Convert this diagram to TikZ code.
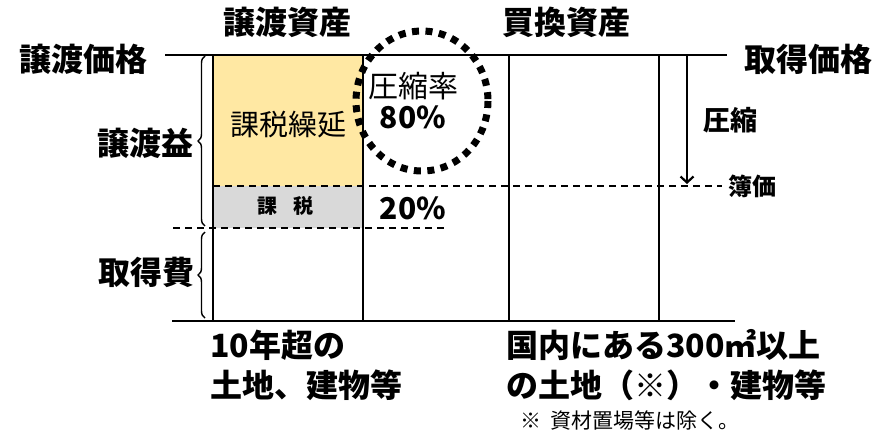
\documentclass[tikz,border=0pt]{standalone}
\usepackage{fontspec}
\newfontfamily\jp{Noto Sans CJK JP}
\usetikzlibrary{arrows.meta,decorations.pathreplacing}
\definecolor{yfill}{RGB}{255,232,163}
\definecolor{gfill}{RGB}{217,217,217}
\begin{document}
\begin{tikzpicture}[x=1pt,y=-1pt,
  big/.style={font=\jp\bfseries\fontsize{32}{36}\selectfont, inner sep=0pt},
  mid/.style={font=\jp\bfseries\fontsize{30}{34}\selectfont, inner sep=0pt},
  reg/.style={font=\jp\fontsize{29}{32}\selectfont, inner sep=0pt},
  small/.style={font=\jp\bfseries\fontsize{20}{24}\selectfont, inner sep=0pt},
  note/.style={font=\jp\fontsize{21}{24}\selectfont, inner sep=0pt},
  solidline/.style={line width=2.2pt},
  dashline/.style={line width=1.6pt, dash pattern=on 7pt off 5pt},
  brc/.style={decorate, decoration={brace, amplitude=7pt}, line width=1.4pt}]
\useasboundingbox (0,0) rectangle (877,432);
% fills
\fill[yfill] (213,55) rectangle (363,186);
\fill[gfill] (213,186) rectangle (363,228);
% coordinates
\coordinate (tl) at (165,55); \coordinate (tr) at (727,55);
\coordinate (bl) at (172,321); \coordinate (br) at (735,321);
\coordinate (v1t) at (213,55); \coordinate (v1b) at (213,321);
\coordinate (v2t) at (363,55); \coordinate (v2b) at (363,321);
\coordinate (v3t) at (509,55); \coordinate (v3b) at (509,321);
\coordinate (v4t) at (659,55); \coordinate (v4b) at (659,321);
\coordinate (d1a) at (213,186); \coordinate (d1b) at (722,186);
\coordinate (d2a) at (173,228); \coordinate (d2b) at (445,228);
\coordinate (at) at (687,56); \coordinate (ab) at (687,184);
% lines
\draw[solidline] (tl) -- (tr);
\draw[solidline] (bl) -- (br);
\draw[solidline] (v1t) -- (v1b);
\draw[solidline] (v2t) -- (v2b);
\draw[solidline] (v3t) -- (v3b);
\draw[solidline] (v4t) -- (v4b);
\draw[dashline] (d1a) -- (d1b);
\draw[dashline] (d2a) -- (d2b);
\draw[line width=2pt, -{Straight Barb[length=6pt,width=13pt,line width=2.2pt]}] (at) -- (ab);
% braces
\draw[brc] (205,226) -- (205,56);
\draw[brc] (205,318) -- (205,232);
% dotted ellipse
\draw[line width=7pt, dash pattern=on 7pt off 6.5pt] (422,101) ellipse [x radius=66, y radius=70];
% texts
\node[big] (h1) at (287,22) {譲渡資産};
\node[big] (h2) at (566,22) {買換資産};
\node[big] (jp1) at (83,59) {譲渡価格};
\node[big] (jp2) at (808,59) {取得価格};
\node[big] (ek) at (145,143) {譲渡益};
\node[big] (hi) at (146,272) {取得費};
\node[reg] (kz) at (288,125) {課税繰延};
\node[small] (kz2) at (285,206) {課\hspace{0.8em}税};
\node[reg,font=\jp\fontsize{30}{34}\selectfont] (ar) at (413,86) {圧縮率};
\node[mid] (p80) at (413,117) {80\%};
\node[mid] (p20) at (413,208) {20\%};
\node[big,font=\jp\bfseries\fontsize{27}{30}\selectfont] (as) at (730,120) {圧縮};
\node[big,font=\jp\bfseries\fontsize{24}{28}\selectfont] (bk) at (752,186) {簿価};
\node[big, anchor=west] (b1) at (210,345) {10年超の};
\node[big, anchor=west] (b2) at (210,385) {土地、建物等};
\node[big, anchor=west] (b3) at (506,345) {国内にある300㎡以上};
\node[big, anchor=west] (b4) at (506,385) {の土地（※）・建物等};
\node[note, anchor=west] (nt) at (520,420) {※\ \ 資材置場等は除く。};
\end{tikzpicture}
\end{document}
